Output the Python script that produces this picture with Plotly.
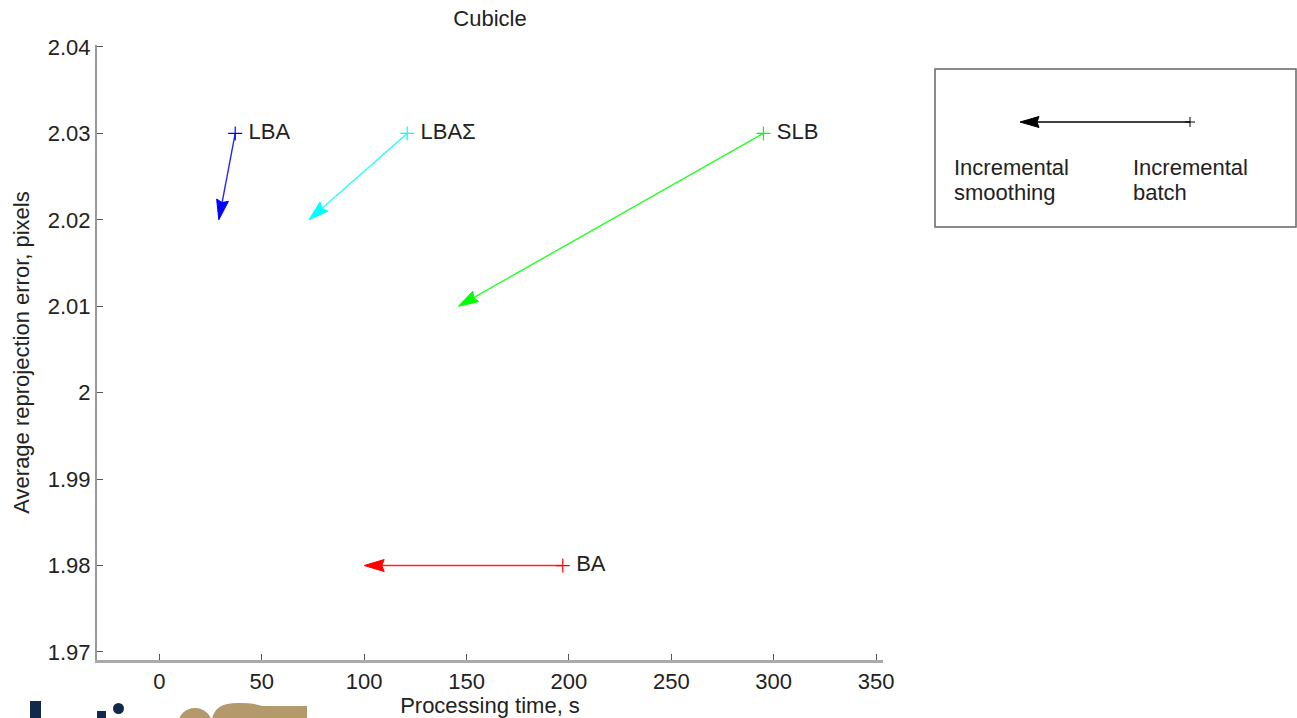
import math
import plotly.graph_objects as go

# ---- data ----
methods = ["LBA", "LBAΣ", "SLB", "BA"]
colors = ["#0000ff", "#00ffff", "#00ff00", "#ff0000"]
batch_time = [37, 121, 295, 197]          # incremental batch (arrow tail)
batch_err = [2.03, 2.03, 2.03, 1.98]
smooth_time = [29, 73, 146, 100]          # incremental smoothing (arrow tip)
smooth_err = [2.02, 2.02, 2.01, 1.98]
x_ticks = [0, 50, 100, 150, 200, 250, 300, 350]
y_ticks = [1.97, 1.98, 1.99, 2.0, 2.01, 2.02, 2.03, 2.04]
y_tick_text = ["1.97", "1.98", "1.99", "2", "2.01", "2.02", "2.03", "2.04"]

W, H = 1297, 718
L, R, T, B = 97, 414, 45, 58
PW, PH = W - L - R, H - T - B
X_RANGE = [-30.5, 353.4]
Y_RANGE = [1.96907, 2.04023]
FONT = "Liberation Sans, Arial, Helvetica, sans-serif"
FS = 22
TXT = "#222"

sx_scale = PW / (X_RANGE[1] - X_RANGE[0])   # px per x unit
sy_scale = PH / (Y_RANGE[1] - Y_RANGE[0])   # px per y unit

HEAD_LEN, HEAD_HALF, NOTCH = 20, 6, 0.88


def head_polygon(x0, y0, x1, y1):
    """Arrow head polygon (data coords) at (x1,y1), pointing from (x0,y0)."""
    dx = (x1 - x0) * sx_scale
    dy = (y1 - y0) * sy_scale
    n = math.hypot(dx, dy)
    ux, uy = dx / n, dy / n
    vx, vy = -uy, ux
    pts = [
        (0, 0),
        (-HEAD_LEN * ux + HEAD_HALF * vx, -HEAD_LEN * uy + HEAD_HALF * vy),
        (-NOTCH * HEAD_LEN * ux, -NOTCH * HEAD_LEN * uy),
        (-HEAD_LEN * ux - HEAD_HALF * vx, -HEAD_LEN * uy - HEAD_HALF * vy),
        (0, 0),
    ]
    xs = [x1 + p[0] / sx_scale for p in pts]
    ys = [y1 + p[1] / sy_scale for p in pts]
    notch = (x1 - NOTCH * HEAD_LEN * ux / sx_scale, y1 - NOTCH * HEAD_LEN * uy / sy_scale)
    return xs, ys, notch


def px(x):
    return (x - L) / PW


def py(y):
    return (H - B - y) / PH


fig = go.Figure()

for m, c, bx, by, ex, ey in zip(methods, colors, batch_time, batch_err, smooth_time, smooth_err):
    hx, hy, notch = head_polygon(bx, by, ex, ey)
    fig.add_trace(go.Scatter(x=[bx, notch[0]], y=[by, notch[1]], mode="lines",
                             line=dict(color=c, width=1.4), opacity=0.85, showlegend=False,
                             hoverinfo="skip"))
    fig.add_trace(go.Scatter(x=hx, y=hy, mode="lines", fill="toself", fillcolor=c,
                             line=dict(color=c, width=1), showlegend=False,
                             hoverinfo="skip"))
    fig.add_trace(go.Scatter(
        x=[bx], y=[by], mode="markers+text", text=[" " + m], textposition="middle right",
        textfont=dict(family=FONT, size=FS, color=TXT),
        marker=dict(symbol="cross-thin", size=10, line=dict(color=c, width=1.2)),
        showlegend=False, cliponaxis=False))

# legend-like inset (arrow explanation), drawn in pixel positions
lx0, lx1, ly = 1190, 1020, 122
shapes = [
    dict(type="rect", xref="paper", yref="paper", x0=px(935), x1=px(1296),
         y0=py(227), y1=py(69), line=dict(color="#666", width=1.5)),
    dict(type="line", xref="paper", yref="paper", x0=px(lx0), x1=px(lx1 + 15),
         y0=py(ly), y1=py(ly), line=dict(color="#000", width=1.3)),
    dict(type="path", xref="paper", yref="paper",
         path=(f"M {px(lx1)},{py(ly)} L {px(lx1 + 19)},{py(ly - 5.5)} "
               f"L {px(lx1 + 17)},{py(ly)} L {px(lx1 + 19)},{py(ly + 5.5)} Z"),
         fillcolor="#000", line=dict(color="#000", width=1)),
    dict(type="line", xref="paper", yref="paper", x0=px(lx0 - 5), x1=px(lx0 + 5),
         y0=py(ly), y1=py(ly), line=dict(color="#000", width=1)),
    dict(type="line", xref="paper", yref="paper", x0=px(lx0), x1=px(lx0),
         y0=py(ly - 5), y1=py(ly + 5), line=dict(color="#000", width=1)),
    # cropped logo fragment at bottom-left
    dict(type="rect", xref="paper", yref="paper", x0=px(30), x1=px(41),
         y0=py(720), y1=py(701), fillcolor="#13294b", line=dict(width=0)),
    dict(type="rect", xref="paper", yref="paper", x0=px(97), x1=px(106),
         y0=py(720), y1=py(711), fillcolor="#13294b", line=dict(width=0)),
    dict(type="circle", xref="paper", yref="paper", x0=px(113), x1=px(124),
         y0=py(714), y1=py(703), fillcolor="#13294b", line=dict(width=0)),
    dict(type="circle", xref="paper", yref="paper", x0=px(178), x1=px(212),
         y0=py(740), y1=py(708), fillcolor="#b3996b", line=dict(width=0)),
    dict(type="path", xref="paper", yref="paper",
         path=(f"M {px(212)},{py(720)} Q {px(214)},{py(702)} {px(240)},{py(703)} "
               f"Q {px(255)},{py(703)} {px(262)},{py(706)} L {px(307)},{py(706)} "
               f"L {px(307)},{py(720)} Z"),
         fillcolor="#b3996b", line=dict(width=0)),
]

annotations = []
for text, x, y in [("Incremental", 952, 167), ("smoothing", 952, 193),
                   ("Incremental", 1131, 167), ("batch", 1131, 193)]:
    annotations.append(dict(x=px(x), y=py(y), xref="paper", yref="paper",
                            xanchor="left", yanchor="middle", text=text,
                            showarrow=False, font=dict(family=FONT, size=FS, color=TXT)))

fig.update_layout(
    width=W, height=H,
    margin=dict(l=L, r=R, t=T, b=B, autoexpand=False),
    paper_bgcolor="white", plot_bgcolor="white",
    font=dict(family=FONT, size=FS, color=TXT),
    title=dict(text="Cubicle", x=0.5, xref="paper", y=1 - 18 / H, yref="container",
               xanchor="center", yanchor="middle", font=dict(family=FONT, size=FS, color=TXT)),
    xaxis=dict(range=X_RANGE, tickvals=x_ticks, ticks="inside", ticklen=6,
               tickcolor="#555", showgrid=False, zeroline=False, showline=True,
               linecolor="#aaa", linewidth=3, ticklabelstandoff=0, automargin=False,
               title=dict(text="Processing time, s", standoff=0,
                          font=dict(family=FONT, size=FS, color=TXT))),
    yaxis=dict(range=Y_RANGE, tickvals=y_ticks, ticktext=y_tick_text,
               ticks="inside", ticklen=6, tickcolor="#555", showgrid=False,
               zeroline=False, showline=True, linecolor="#999", linewidth=2,
               automargin=False,
               title=dict(text="Average reprojection error, pixels", standoff=12,
                          font=dict(family=FONT, size=FS, color=TXT))),
    annotations=annotations,
    shapes=shapes,
    showlegend=False,
)

fig.write_html("out.html", config={"displayModeBar": False},
               post_script="document.body.style.margin='0';")
